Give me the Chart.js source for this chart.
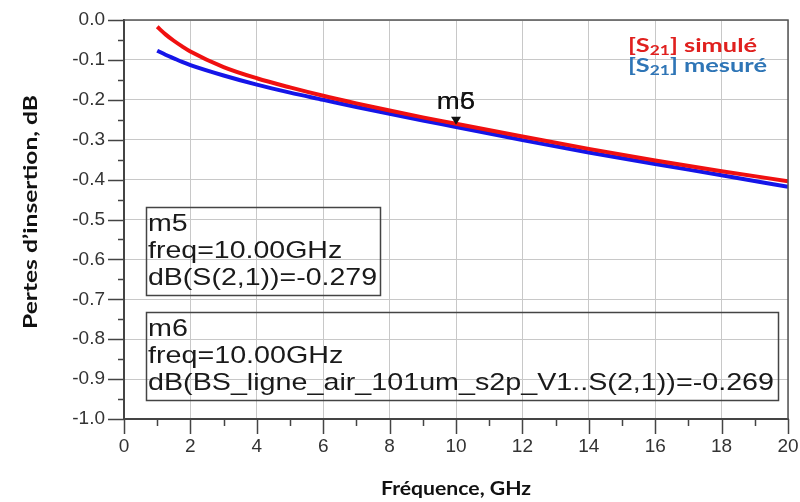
<!DOCTYPE html>
<html><head><meta charset="utf-8">
<script src="https://cdn.jsdelivr.net/npm/chart.js@4.4.1/dist/chart.umd.min.js"></script>
<style>html,body{margin:0;padding:0;background:#fff;} #wrap{width:800px;height:502px;}</style>
</head><body><div id="wrap"><canvas id="c" width="800" height="502"></canvas></div>
<script>
// ---- data ----
const freqGHz   = [1, 1.25, 1.5, 1.75, 2, 3, 4, 5, 6, 7, 8, 9, 10, 12, 14, 16, 18, 20];
const s21Simule = [-0.017, -0.036, -0.052, -0.066, -0.079, -0.118, -0.146, -0.169, -0.190, -0.209, -0.227, -0.244, -0.260, -0.292, -0.323, -0.352, -0.379, -0.404];
const s21Mesure = [-0.077, -0.087, -0.096, -0.105, -0.113, -0.139, -0.162, -0.182, -0.200, -0.218, -0.235, -0.252, -0.268, -0.301, -0.332, -0.361, -0.389, -0.418];
const xTicks = [0, 2, 4, 6, 8, 10, 12, 14, 16, 18, 20];
const yTicks = [0, -0.1, -0.2, -0.3, -0.4, -0.5, -0.6, -0.7, -0.8, -0.9, -1.0];
const seriesNames = ['simulé', 'mesuré'];
const xTitle = 'Fréquence, GHz';
const yTitle = 'Pertes d’insertion, dB';
const markerFreq = 10;
const markerNames = ['m5', 'm6'];
const markerBoxes = [
  ['m5', 'freq=10.00GHz', 'dB(S(2,1))=-0.279'],
  ['m6', 'freq=10.00GHz', 'dB(BS_ligne_air_101um_s2p_V1..S(2,1))=-0.269']
];

function stretchText(ctx, text, x, y, sx) {
  ctx.save(); ctx.translate(x, y); ctx.scale(sx, 1); ctx.fillText(text, 0, 0); ctx.restore();
}

const overlay = {
  id: 'overlay',
  afterDraw(chart) {
    const ctx = chart.ctx, xs = chart.scales.x, ys = chart.scales.y, a = chart.chartArea;
    ctx.save();
    // frame top/right
    ctx.strokeStyle = '#555'; ctx.lineWidth = 1.5;
    ctx.beginPath();
    ctx.moveTo(a.left, a.top); ctx.lineTo(a.right, a.top); ctx.lineTo(a.right, a.bottom);
    ctx.stroke();
    // tick marks
    ctx.strokeStyle = '#444'; ctx.lineWidth = 1.5;
    ctx.beginPath();
    for (let i = 0; i < yTicks.length; i++) {
      const py = Math.round(ys.getPixelForValue(yTicks[i])) + 0.5;
      ctx.moveTo(a.left - 16, py); ctx.lineTo(a.left, py);
      if (i < yTicks.length - 1) {
        const pm = Math.round(ys.getPixelForValue((yTicks[i] + yTicks[i + 1]) / 2)) + 0.5;
        ctx.moveTo(a.left - 6, pm); ctx.lineTo(a.left, pm);
      }
    }
    for (let i = 0; i < xTicks.length; i++) {
      const px = Math.round(xs.getPixelForValue(xTicks[i])) + 0.5;
      ctx.moveTo(px, a.bottom); ctx.lineTo(px, a.bottom + 15);
      if (i < xTicks.length - 1) {
        const pm = Math.round(xs.getPixelForValue((xTicks[i] + xTicks[i + 1]) / 2)) + 0.5;
        ctx.moveTo(pm, a.bottom); ctx.lineTo(pm, a.bottom + 7);
      }
    }
    ctx.stroke();

    // axis titles (stretched like the reference)
    ctx.fillStyle = '#111';
    ctx.font = 'bold 18px Lato';
    ctx.textAlign = 'center'; ctx.textBaseline = 'middle';
    let w = ctx.measureText(xTitle).width;
    stretchText(ctx, xTitle, (a.left + a.right) / 2, 489, 150 / w);
    w = ctx.measureText(yTitle).width;
    ctx.save(); ctx.translate(31, 212); ctx.rotate(-Math.PI / 2);
    stretchText(ctx, yTitle, 0, 0, 234 / w);
    ctx.restore();

    // marker triangle + labels
    const mi = freqGHz.indexOf(markerFreq);
    const mx = xs.getPixelForValue(markerFreq);
    const my = ys.getPixelForValue(s21Simule[mi]) + 1;
    ctx.fillStyle = '#111';
    ctx.beginPath();
    ctx.moveTo(mx - 5, my - 8); ctx.lineTo(mx + 5, my - 8); ctx.lineTo(mx, my); ctx.closePath();
    ctx.fill();
    ctx.font = '23px "Liberation Sans"';
    ctx.textAlign = 'center'; ctx.textBaseline = 'middle';
    ctx.fillStyle = '#333';
    stretchText(ctx, markerNames[0], mx, my - 22, 1.2);
    ctx.fillStyle = '#111';
    stretchText(ctx, markerNames[1], mx, my - 22, 1.2);

    // marker boxes
    const boxes = [
      { l: a.left + 22, t: 207, r: a.left + 256, b: 295, w: 229 },
      { l: a.left + 22, t: 312, r: a.left + 654, b: 400, w: 626 }
    ];
    ctx.textAlign = 'left'; ctx.textBaseline = 'middle';
    ctx.font = '24px "Liberation Sans"';
    boxes.forEach((bx, k) => {
      ctx.strokeStyle = '#444'; ctx.lineWidth = 1.5;
      ctx.strokeRect(bx.l + 0.5, bx.t + 0.5, bx.r - bx.l, bx.b - bx.t);
      const lines = markerBoxes[k];
      const sx = bx.w / ctx.measureText(lines[2]).width;
      ctx.fillStyle = '#1a1a1a';
      lines.forEach((s, j) => stretchText(ctx, s, bx.l + 2, bx.t + 17 + j * 27, sx));
    });

    // legend
    const leg = [{ c: '#e0201e', name: seriesNames[0], tw: 129 }, { c: '#2e75b6', name: seriesNames[1], tw: 139 }];
    ctx.textBaseline = 'alphabetic'; ctx.textAlign = 'left';
    leg.forEach((L, k) => {
      const y = 52 + k * 20;
      ctx.font = 'bold 19px Lato'; const w1 = ctx.measureText('[S').width;
      const w3 = ctx.measureText('] ' + L.name).width;
      ctx.font = 'bold 13px Lato'; const w2 = ctx.measureText('21').width;
      const sx = L.tw / (w1 + w2 + w3);
      ctx.save(); ctx.translate(628, y); ctx.scale(sx, 1);
      ctx.fillStyle = L.c;
      ctx.font = 'bold 19px Lato'; ctx.fillText('[S', 0, 0);
      ctx.font = 'bold 13px Lato'; ctx.fillText('21', w1, 3);
      ctx.font = 'bold 19px Lato'; ctx.fillText('] ' + L.name, w1 + w2, 0);
      ctx.restore();
    });
    ctx.restore();
  }
};

new Chart(document.getElementById('c').getContext('2d'), {
  type: 'line',
  data: {
    datasets: [
      { label: '[S21] ' + seriesNames[0], data: freqGHz.map((f, i) => ({ x: f, y: s21Simule[i] })),
        borderColor: '#f01010', borderWidth: 4, pointRadius: 0, cubicInterpolationMode: 'monotone', fill: false },
      { label: '[S21] ' + seriesNames[1], data: freqGHz.map((f, i) => ({ x: f, y: s21Mesure[i] })),
        borderColor: '#1515e8', borderWidth: 4, pointRadius: 0, cubicInterpolationMode: 'monotone', fill: false }
    ]
  },
  options: {
    responsive: false, animation: false, devicePixelRatio: 1,
    layout: { padding: { left: 0, top: 20, right: 12, bottom: 0 } },
    plugins: { legend: { display: false }, tooltip: { enabled: false } },
    scales: {
      x: {
        type: 'linear', min: 0, max: 20,
        afterBuildTicks: s => { s.ticks = xTicks.map(v => ({ value: v })); },
        afterFit: s => { s.height = 83; s.paddingLeft = 0; s.paddingRight = 0; },
        grid: { color: '#c8c8c8', lineWidth: 1, drawTicks: false },
        border: { display: true, color: '#444', width: 2 },
        ticks: { font: { family: 'Liberation Sans', size: 19 }, color: '#333', padding: 16, maxRotation: 0, autoSkip: false, callback: v => String(v) },
        title: { display: false, text: xTitle }
      },
      y: {
        type: 'linear', min: -1, max: 0,
        afterBuildTicks: s => { s.ticks = yTicks.map(v => ({ value: v })); },
        afterFit: s => { s.width = 124; s.paddingTop = 0; s.paddingBottom = 0; },
        grid: { color: '#c8c8c8', lineWidth: 1, drawTicks: false },
        border: { display: true, color: '#444', width: 2 },
        ticks: { font: { family: 'Liberation Sans', size: 19 }, color: '#333', padding: 19, autoSkip: false, callback: v => Number(v).toFixed(1) },
        title: { display: false, text: yTitle }
      }
    }
  },
  plugins: [overlay]
});
</script>
</body></html>
